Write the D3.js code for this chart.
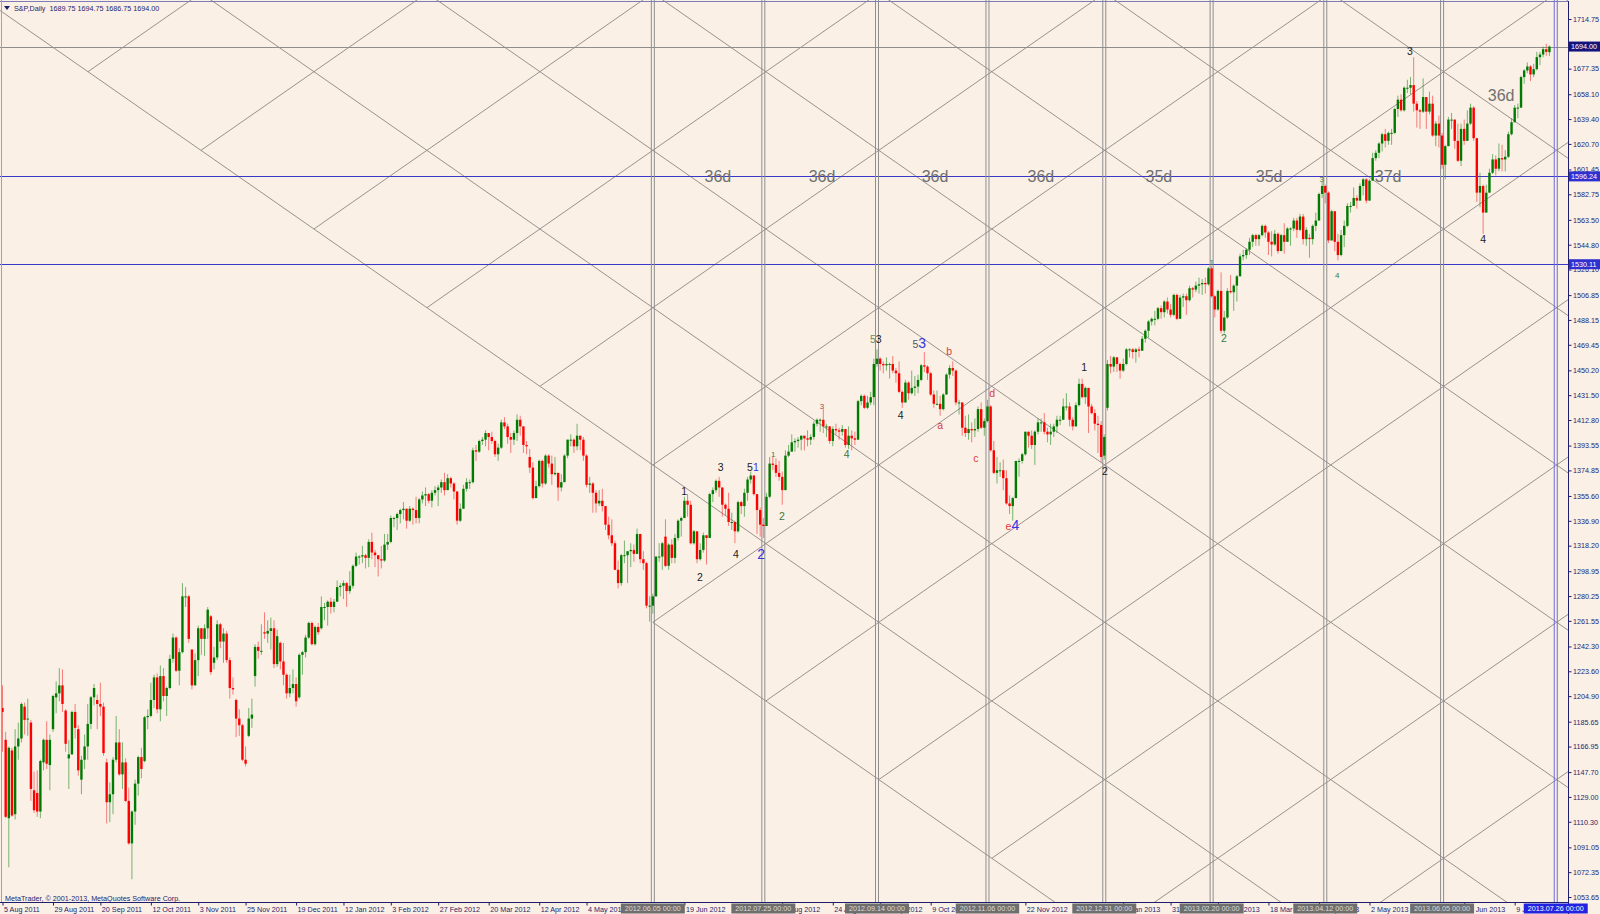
<!DOCTYPE html>
<html><head><meta charset="utf-8">
<script src="https://cdn.jsdelivr.net/npm/d3@7"></script>
<style>
html,body{margin:0;padding:0;background:#faf0e6;overflow:hidden;}
svg{display:block;font-family:"Liberation Sans",Arial,sans-serif;}
</style></head><body>
<svg id="c" width="1600" height="914"></svg>
<script>
// ---------------- DATA (S&P futures, daily bars, 5 Aug 2011 .. 24 Jul 2013) ----------------
const opens = [
1196,1172,1113,1164,1116,1167,1173,1197,1188,1185,1134,1132,1118,1155,1172,1153,1180,1204,1207,
1213,1194,1158,1161,1193,1180,1142,1157,1167,1184,1204,1202,1199,1197,1155,1125,1131,1157,1170,1146,1155,
1126,1094,1118,1139,1159,1156,1189,1190,1202,1219,1195,1220,1205,1211,1233,1249,1224,1238,1280,1280,
1240,1213,1232,1256,1248,1256,1265,1230,1234,1259,1246,1252,1232,1211,1202,1188,1183,1157,1175,1188,1220,
1242,1239,1253,1252,1254,1256,1229,1245,1231,1221,1207,1211,1214,1204,1236,1238,1249,1260,1244,1257,
1256,1272,1272,1276,1272,1276,1287,1288,1290,1284,1288,1303,1310,1310,1311,1309,1321,1313,1311,1308,
1307,1319,1321,1339,1339,1342,1345,1346,1337,1346,1345,1339,1353,1356,1357,1352,1358,1360,1362,1366,
1360,1369,1365,1359,1337,1346,1361,1366,1366,1390,1389,1397,1398,1403,1400,1397,1387,1392,1411,1408,1400,1398,
1403,1413,1408,1394,1385,1377,1354,1363,1382,1365,1386,1380,1372,1373,1362,1366,1386,1398,1398,
1393,1401,1398,1386,1364,1365,1358,1350,1352,1348,1334,1326,1320,1300,1290,1311,1311,1314,1315,1312,1327,1308,
1305,1273,1273,1280,1310,1310,1325,1303,1319,1309,1324,1337,1339,1352,1349,1320,1329,1308,1315,1326,1324,
1357,1360,1367,1362,1349,1346,1336,1336,1329,1351,1348,1358,1368,1371,1357,1345,1334,1333,1355,1380,1379,
1373,1370,1360,1386,1389,1396,1397,1398,1401,1399,1398,1400,1410,1413,1413,1408,1408,1397,1406,1405,1404,1406,1394,
1401,1399,1398,1427,1431,1422,1426,1430,1455,1459,1455,1454,1455,1455,1450,1448,1434,1426,1441,
1433,1437,1438,1443,1454,1453,1448,1432,1425,1425,1421,1432,1447,1452,1450,1426,1426,1407,1403,1406,1405,
1406,1421,1407,1412,1423,1390,1373,1375,1375,1369,1350,1348,1354,1382,1382,1387,1404,1401,1394,1404,1411,
1411,1404,1402,1404,1408,1413,1413,1423,1423,1413,1408,1424,1440,1430,1437,1423,1418,1410,1409,1386,
1422,1455,1453,1460,1455,1450,1455,1466,1466,1464,1466,1465,1474,1480,1487,1489,1489,1497,1494,1502,1496,
1492,1507,1489,1505,1506,1503,1512,1511,1514,1515,1516,1515,1527,1506,1496,1510,1480,1490,1510,
1509,1514,1521,1536,1537,1541,1547,1552,1549,1552,1559,1554,1547,1545,1553,1540,1552,1547,1557,1557,
1563,1556,1566,1549,1550,1549,1559,1563,1583,1589,1584,1548,1570,1547,1537,1552,1559,1574,1574,1580,1578,1589,
1594,1578,1593,1610,1614,1621,1628,1623,1629,1629,1647,1654,1646,1663,1663,1665,1651,1646,1645,1656,1645,1651,
1627,1636,1627,1605,1619,1639,1639,1623,1608,1632,1623,1636,1648,1625,1584,1589,1569,1584,1599,1609,
1602,1610,1609,1611,1628,1637,1648,1648,1671,1676,1679,1673,1677,1686,1688,1692,1689.75];
const highs = [
1213,1178,1167,1166,1180,1185,1200,1200,1203,1187,1148,1149,1157,1173,1186,1176,1206,1216,1226,
1225,1195,1172,1194,1199,1183,1160,1176,1199,1205,1214,1206,1215,1200,1158,1140,1159,1190,1180,1170,1158,
1136,1119,1142,1160,1166,1190,1195,1215,1221,1222,1228,1226,1212,1236,1252,1250,1241,1290,1287,1281,
1240,1237,1258,1256,1259,1272,1266,1242,1262,1260,1256,1254,1234,1219,1203,1195,1184,1167,1196,1203,1244,
1246,1259,1268,1262,1264,1262,1255,1246,1245,1222,1221,1225,1219,1237,1239,1251,1261,1261,1258,1260,
1280,1275,1277,1279,1278,1292,1290,1292,1291,1299,1304,1313,1311,1318,1312,1323,1328,1315,1311,1318,
1327,1327,1341,1340,1343,1346,1351,1346,1348,1347,1355,1354,1359,1362,1358,1360,1363,1364,1368,1373,
1372,1370,1366,1359,1350,1364,1369,1368,1392,1394,1398,1400,1405,1403,1404,1398,1395,1413,1415,1410,1403,1405,
1417,1416,1408,1397,1391,1381,1367,1383,1383,1387,1387,1386,1385,1373,1372,1387,1398,1402,1399,
1410,1401,1400,1387,1370,1366,1360,1360,1361,1348,1340,1338,1322,1307,1312,1322,1314,1320,1319,1331,1327,1314,
1306,1280,1282,1310,1320,1321,1338,1320,1323,1327,1338,1340,1355,1357,1352,1330,1329,1320,1328,1326,1358,
1362,1368,1370,1362,1350,1358,1343,1337,1352,1352,1361,1370,1374,1371,1357,1347,1339,1358,1385,1385,1384,
1382,1374,1390,1394,1402,1399,1400,1401,1401,1405,1402,1412,1414,1414,1421,1410,1408,1408,1410,1407,1409,1406,1408,
1405,1404,1428,1432,1432,1431,1434,1459,1466,1460,1457,1460,1456,1461,1452,1457,1435,1443,1442,
1450,1446,1447,1455,1464,1454,1449,1435,1435,1431,1433,1448,1454,1457,1451,1428,1426,1416,1417,1411,1414,
1423,1426,1414,1428,1424,1397,1385,1381,1383,1375,1356,1355,1382,1384,1388,1404,1404,1405,1405,1414,1414,
1418,1407,1410,1410,1416,1416,1429,1433,1426,1415,1426,1444,1444,1438,1437,1425,1421,1416,1412,1402,
1458,1461,1461,1460,1456,1459,1467,1467,1467,1467,1468,1476,1481,1488,1490,1495,1498,1499,1503,1505,1500,
1508,1508,1507,1508,1508,1514,1513,1517,1520,1519,1520,1528,1529,1507,1511,1524,1495,1512,1522,
1515,1522,1538,1541,1542,1550,1553,1553,1553,1560,1560,1555,1555,1556,1554,1553,1561,1558,1558,1565,
1565,1568,1568,1558,1553,1560,1569,1584,1592,1590,1585,1571,1570,1553,1556,1563,1576,1577,1588,1582,1591,1595,
1595,1594,1614,1616,1622,1629,1632,1630,1632,1648,1657,1658,1664,1669,1671,1686,1653,1647,1670,1656,1660,1657,
1638,1642,1629,1620,1641,1644,1639,1636,1636,1639,1646,1651,1649,1625,1599,1590,1590,1602,1613,1612,
1621,1620,1616,1630,1640,1650,1651,1672,1677,1682,1680,1681,1690,1690,1694,1696,1694.75];
const lows = [
1163,1113,1076,1114,1112,1157,1170,1176,1175,1126,1117,1114,1113,1149,1150,1134,1178,1192,1201,
1193,1163,1135,1161,1173,1145,1131,1150,1157,1180,1198,1180,1190,1160,1109,1110,1116,1155,1145,1135,1125,
1093,1067,1108,1130,1143,1155,1180,1189,1196,1192,1186,1201,1190,1210,1230,1223,1213,1237,1272,1245,
1210,1213,1220,1236,1235,1248,1221,1225,1232,1241,1230,1230,1203,1206,1174,1175,1156,1152,1174,1181,1212,
1233,1236,1248,1245,1240,1226,1227,1225,1213,1203,1204,1207,1197,1203,1221,1234,1248,1243,1243,1251,
1255,1262,1258,1267,1268,1276,1280,1278,1272,1282,1286,1302,1304,1305,1301,1302,1308,1302,1295,1301,
1306,1315,1320,1332,1330,1335,1338,1331,1336,1334,1335,1335,1350,1348,1350,1347,1356,1348,1358,1356,
1360,1362,1353,1334,1336,1346,1359,1361,1365,1382,1388,1394,1393,1390,1395,1385,1382,1391,1406,1395,1388,1394,
1397,1401,1388,1387,1373,1353,1354,1362,1362,1364,1377,1364,1371,1352,1359,1366,1384,1393,1388,
1390,1390,1382,1362,1358,1343,1343,1348,1344,1330,1323,1318,1300,1286,1288,1305,1290,1302,1306,1312,1305,1300,
1271,1261,1267,1280,1306,1300,1302,1300,1305,1305,1322,1325,1339,1340,1319,1319,1305,1307,1313,1304,1324,
1351,1358,1355,1340,1341,1333,1330,1320,1328,1342,1340,1352,1365,1356,1327,1325,1324,1333,1354,1375,1370,
1367,1349,1360,1385,1389,1389,1392,1390,1390,1393,1394,1398,1408,1404,1403,1400,1395,1393,1402,1398,1401,1392,1391,
1390,1394,1398,1424,1421,1421,1424,1424,1453,1450,1448,1450,1444,1448,1441,1433,1422,1426,1428,
1432,1431,1433,1442,1449,1443,1431,1422,1424,1416,1420,1432,1444,1446,1424,1417,1401,1400,1398,1396,1400,
1404,1406,1401,1411,1389,1372,1365,1370,1360,1349,1342,1337,1354,1370,1380,1386,1392,1391,1379,1402,1404,
1402,1396,1394,1400,1403,1409,1413,1420,1408,1405,1408,1423,1429,1425,1403,1417,1405,1388,1381,1383,
1420,1448,1449,1449,1444,1449,1454,1460,1459,1456,1460,1465,1471,1475,1484,1484,1488,1489,1490,1493,1490,
1491,1488,1489,1498,1492,1502,1505,1509,1508,1507,1508,1514,1505,1490,1495,1478,1478,1489,1508,
1495,1502,1521,1533,1534,1537,1543,1544,1544,1551,1550,1537,1536,1544,1538,1540,1538,1547,1544,1555,
1550,1555,1545,1544,1535,1545,1555,1563,1580,1576,1546,1548,1540,1533,1536,1543,1558,1569,1574,1572,1578,1582,
1576,1578,1593,1608,1610,1615,1618,1620,1620,1628,1641,1645,1645,1659,1658,1645,1633,1632,1644,1632,1643,1626,
1619,1618,1602,1594,1619,1632,1617,1607,1604,1620,1623,1635,1623,1577,1573,1553,1569,1584,1598,1597,
1600,1600,1600,1610,1627,1637,1640,1648,1666,1674,1668,1671,1676,1680,1686,1687,1686.75];
const closes = [
1193,1114,1166,1115,1167,1173,1199,1187,1188,1135,1119,1118,1156,1172,1154,1172,1205,1207,1213,
1199,1169,1161,1193,1181,1149,1157,1167,1184,1204,1211,1199,1197,1162,1125,1131,1157,1170,1146,1155,1126,
1094,1118,1139,1159,1150,1189,1190,1202,1219,1195,1220,1205,1211,1233,1249,1224,1238,1280,1280,1248,
1213,1232,1256,1248,1256,1270,1223,1234,1259,1246,1252,1232,1211,1210,1188,1183,1157,1154,1188,1191,1242,
1239,1239,1252,1254,1256,1229,1250,1231,1221,1207,1211,1214,1201,1236,1238,1249,1260,1244,1257,1253,
1272,1272,1276,1272,1276,1287,1288,1290,1284,1288,1303,1310,1310,1311,1309,1321,1313,1311,1308,1307,
1319,1321,1339,1339,1342,1345,1346,1337,1346,1345,1339,1353,1356,1357,1352,1358,1360,1362,1366,1360,
1369,1365,1359,1337,1346,1361,1366,1366,1390,1389,1397,1398,1403,1400,1397,1387,1392,1411,1408,1400,1398,1403,
1413,1408,1394,1393,1377,1354,1363,1382,1365,1386,1380,1372,1373,1362,1366,1386,1398,1398,1393,
1401,1398,1386,1364,1365,1358,1350,1352,1348,1334,1326,1320,1300,1290,1311,1311,1314,1315,1312,1327,1308,1305,
1273,1273,1280,1310,1310,1320,1303,1319,1309,1324,1337,1339,1352,1349,1320,1329,1308,1315,1326,1324,1357,
1360,1367,1362,1349,1346,1336,1336,1329,1351,1348,1358,1368,1371,1357,1345,1334,1333,1355,1380,1379,1373,
1370,1360,1386,1389,1396,1397,1398,1401,1399,1398,1400,1410,1413,1413,1408,1408,1397,1406,1405,1404,1406,1394,1401,
1399,1398,1427,1431,1422,1426,1430,1455,1459,1455,1454,1455,1455,1450,1448,1434,1426,1441,1433,
1437,1438,1443,1454,1453,1448,1432,1425,1425,1421,1432,1447,1452,1450,1426,1426,1407,1403,1406,1405,1406,
1421,1407,1412,1423,1390,1373,1375,1375,1369,1350,1348,1354,1382,1382,1387,1404,1401,1394,1404,1411,1411,
1404,1402,1404,1408,1413,1413,1423,1423,1413,1408,1424,1440,1430,1437,1423,1418,1410,1409,1385,1400,
1455,1453,1460,1455,1450,1455,1466,1466,1464,1466,1465,1474,1480,1487,1489,1489,1497,1494,1502,1496,1492,
1507,1489,1505,1506,1503,1512,1511,1514,1515,1516,1515,1527,1506,1496,1510,1480,1490,1510,1509,
1514,1521,1536,1537,1541,1547,1552,1549,1552,1559,1554,1547,1545,1553,1540,1552,1547,1557,1557,1563,
1556,1566,1549,1556,1549,1559,1563,1583,1589,1584,1548,1570,1547,1537,1552,1559,1574,1574,1580,1578,1589,1594,
1578,1593,1610,1614,1621,1628,1623,1629,1629,1647,1654,1646,1663,1663,1665,1651,1646,1645,1656,1645,1651,1627,
1636,1627,1605,1619,1639,1639,1623,1608,1632,1623,1636,1648,1625,1584,1589,1569,1584,1599,1609,1602,
1610,1609,1611,1628,1637,1648,1648,1671,1676,1679,1673,1677,1686,1688,1692,1690,1694];

// time-axis labels: bar index and text (labels fully hidden under the line-date boxes are omitted)
const timeTickIdx = [0,16,31,47,62,77,93,108,123,138,154,170,185,216,247,263,278,294,324,355,370,385,401,417,433,463,479];
const timeTickText = ["5 Aug 2011","29 Aug 2011","20 Sep 2011","12 Oct 2011","3 Nov 2011","25 Nov 2011","19 Dec 2011","12 Jan 2012","3 Feb 2012","27 Feb 2012","20 Mar 2012","12 Apr 2012","4 May 2012","19 Jun 2012","2 Aug 2012","24 Aug 2012","17 Sep 2012","9 Oct 2012","22 Nov 2012","9 Jan 2013","31 Jan 2013","22 Feb 2013","18 Mar 2013","10 Apr 2013","2 May 2013","14 Jun 2013","9 Jul 2013"];
// price-axis labels
const priceTicks = [1714.75,1677.35,1658.10,1639.40,1620.70,1601.45,1582.75,1563.50,1544.80,1526.10,1506.85,1488.15,1469.45,1450.20,1431.50,1412.80,1393.55,1374.85,1355.60,1336.90,1318.20,1298.95,1280.25,1261.55,1242.30,1223.60,1204.90,1185.65,1166.95,1147.70,1129.00,1110.30,1091.05,1072.35,1053.65];
// vertical time lines (bar index, label)
const vlineIdx = [206,241,277,312,349,383,419,456,492];
const vlineText = ["2012.06.05 00:00","2012.07.25 00:00","2012.09.14 00:00","2012.11.06 00:00","2012.12.31 00:00","2013.02.20 00:00","2013.04.12 00:00","2013.06.05 00:00","2013.07.26 00:00"];
// cycle-length labels
const cycleText = ["36d","36d","36d","36d","35d","35d","37d","36d"];
const cycleIdx = [226.6,259.6,295.4,328.9,366.3,401.2,438.9,474.7];
const cyclePrice = [1596.24,1596.24,1596.24,1596.24,1596.24,1596.24,1596.24,1657.5];
// horizontal lines
const hlinePrice = [1694.00,1596.24,1530.11];
// Gann-style lattice anchored at the June 2012 low
const latticeAnchorIdx = 206, latticeAnchorPrice = 1260.5, latticeSlope = 1.655, latticeStep = 118.45;
// wave labels: bar index, price, text; per-character colour and size keys
const waveIdx   = [215.9,220.9,227.5,232.3,237.7,240.3,244.1,246.9,259.6,267.4,276.6,284.5,290.4,297,299.9,308.3,313.5,319.9,342.6,349.2,383,386.9,417.9,422.8,445.8,469];
const wavePrice = [1360.8,1296.1,1378.4,1313.4,1378.4,1312.7,1389,1342,1425.6,1388.7,1475.3,1418,1471.5,1410.5,1466,1385.7,1434.6,1334.5,1454.2,1375.9,1534,1476,1596.5,1524.2,1692.2,1550.6];
const waveText  = ["1","2","3","4","51","2","1","2","3","4","53","4","53","a","b","c","d","e4","1","2","1","2","3","4","3","4"];
const waveColor = ["k","k","k","k","k b","b","g","g","br","g","gg k","k","gk b","r","r","r","r","r b","k","k","g","g","g","g","k","k"];
const waveSize  = ["m","m","m","m","m m","l","s","m","s","m","m m","m","m l","m","m","m","m","m l","m","m","s","m","s","s","m","m"];

// ---------------- DRAWING ----------------
const svg = d3.select('#c');
const PR = 1568, PB = 902;
const x = d3.scaleLinear().domain([0, 492]).range([2.5, 2.5 + 492 * 3.157]);
const y = d3.scaleLinear().domain([1053.65, 1714.75]).range([897, 19]);
const navy = '#1e1e6e';
const fontFam = '"Liberation Sans",Arial,sans-serif';

svg.append('rect').attr('width', 1600).attr('height', 914).attr('fill', '#faf0e6');
svg.append('defs').append('clipPath').attr('id', 'pc')
  .append('rect').attr('x', 0).attr('y', 0).attr('width', PR).attr('height', PB);
const plot = svg.append('g').attr('clip-path', 'url(#pc)');

// lattice
const cyc = latticeStep / (2 * latticeSlope);
const segs = [];
for (let n = 0; n <= 14; n++) {
  const s = n === 0 ? latticeAnchorIdx : -60;
  segs.push({s, e: 620, f: i => latticeAnchorPrice - latticeSlope * (i - latticeAnchorIdx) + n * latticeStep});
}
for (let m = -6; m <= 16; m++) {
  const s = m >= 1 ? latticeAnchorIdx + (1 - m) * cyc : latticeAnchorIdx + (-m) * cyc;
  segs.push({s: Math.max(s, -60), e: 620, f: i => latticeAnchorPrice + latticeSlope * (i - latticeAnchorIdx) + m * latticeStep});
}
plot.append('g').selectAll('line').data(segs).join('line')
  .attr('x1', d => x(d.s)).attr('y1', d => y(d.f(d.s)))
  .attr('x2', d => x(d.e)).attr('y2', d => y(d.f(d.e)))
  .attr('stroke', '#8c8784').attr('stroke-width', 0.9);

// horizontal lines
plot.append('g').selectAll('line').data(hlinePrice).join('line')
  .attr('x1', 0).attr('x2', PR).attr('y1', d => Math.round(y(d)) + 0.5).attr('y2', d => Math.round(y(d)) + 0.5)
  .attr('stroke', (d, k) => k === 0 ? '#8e8e8e' : '#3838c8').attr('stroke-width', 1);

// vertical double lines
const vl = plot.append('g');
vlineIdx.forEach((v, k) => {
  const col = k === vlineIdx.length - 1 ? '#6c6cdc' : '#8e8e8e';
  [-1.5, 1.5].forEach(o => vl.append('line').attr('x1', x(v) + o).attr('x2', x(v) + o)
    .attr('y1', 0).attr('y2', PB).attr('stroke', col).attr('stroke-width', 1));
});

// candles
const bars = closes.map((c, i) => ({i, o: opens[i], h: highs[i], l: lows[i], c}));
const cg = plot.append('g');
cg.selectAll('line').data(bars).join('line')
  .attr('x1', d => x(d.i)).attr('x2', d => x(d.i))
  .attr('y1', d => y(d.h)).attr('y2', d => y(d.l))
  .attr('stroke', d => d.c >= d.o ? '#1f8a1f' : '#f03030').attr('stroke-opacity', 0.6).attr('stroke-width', 1);
cg.selectAll('rect').data(bars).join('rect')
  .attr('x', d => x(d.i) - 1.2).attr('width', 2.4)
  .attr('y', d => y(Math.max(d.o, d.c)))
  .attr('height', d => Math.max(1, Math.abs(y(d.o) - y(d.c))))
  .attr('fill', d => d.c >= d.o ? '#007a00' : '#ff0000');

// cycle labels
plot.append('g').selectAll('text').data(cycleText).join('text')
  .attr('x', (d, k) => x(cycleIdx[k]))
  .attr('y', (d, k) => y(cyclePrice[k])).attr('dy', '0.36em')
  .attr('text-anchor', 'middle').attr('font-size', 16).attr('fill', '#707070').text(d => d);

// wave labels (one text element per label, one tspan per character)
const wc = {k: '#222222', b: '#3535e0', g: '#3c7a3c', r: '#e03a3a', br: '#a04848', gg: '#5f8f5f', gk: '#555555'};
const ws = {s: 8, m: 10.5, l: 14};
const wg = plot.append('g');
waveText.forEach((t, k) => {
  const cols = waveColor[k].split(' '), sz = waveSize[k].split(' ');
  const te = wg.append('text').attr('x', x(waveIdx[k])).attr('y', y(wavePrice[k])).attr('dy', '0.36em')
    .attr('text-anchor', 'middle');
  t.split('').forEach((ch, j) => te.append('tspan').attr('fill', wc[cols[j]]).attr('font-size', ws[sz[j]]).text(ch));
});

// header & footer
svg.append('path').attr('d', 'M4,6 L10,6 L7,10 Z').attr('fill', navy);
svg.append('text').attr('x', 14).attr('y', 10.5).attr('font-size', 7.2).attr('fill', navy)
  .attr('xml:space', 'preserve').text('S&P,Daily  1689.75 1694.75 1686.75 1694.00');
svg.append('text').attr('x', 5).attr('y', 900.5).attr('font-size', 7.2).attr('fill', navy)
  .text('MetaTrader, \u00a9 2001-2013, MetaQuotes Software Corp.');

// frame
svg.append('line').attr('x1', 0).attr('x2', PR).attr('y1', 1.5).attr('y2', 1.5).attr('stroke', '#7c7cb8');
svg.append('line').attr('x1', 1.5).attr('x2', 1.5).attr('y1', 0).attr('y2', PB).attr('stroke', '#a49cd0');
svg.append('line').attr('x1', PR + 0.5).attr('x2', PR + 0.5).attr('y1', 1).attr('y2', 914).attr('stroke', navy);
svg.append('line').attr('x1', 0).attr('x2', PR).attr('y1', PB + 0.5).attr('y2', PB + 0.5).attr('stroke', navy);

// price axis
const pa = svg.append('g').attr('transform', `translate(${PR + 0.5},0)`)
  .call(d3.axisRight(y).tickValues(priceTicks).tickFormat(d3.format('.2f')).tickSize(3).tickPadding(1.5));
pa.select('.domain').remove();
pa.selectAll('line').attr('stroke', navy);
pa.selectAll('text').attr('font-size', 7.2).attr('fill', navy).attr('font-family', fontFam);

// price boxes
const pbox = svg.append('g');
hlinePrice.forEach((p, k) => {
  const yy = y(p);
  pbox.append('rect').attr('x', PR + 1).attr('y', yy - 5).attr('width', 31).attr('height', 10)
    .attr('fill', k === 0 ? '#14147c' : '#3030d0');
  pbox.append('text').attr('x', PR + 3).attr('y', yy).attr('dy', '0.35em').attr('font-size', 7.2)
    .attr('fill', '#ffffff').text(d3.format('.2f')(p));
});

// time axis
const ta = svg.append('g').attr('transform', `translate(0,${PB + 0.5})`)
  .call(d3.axisBottom(x).tickValues(timeTickIdx).tickFormat((d, k) => timeTickText[k]).tickSize(3).tickPadding(1));
ta.select('.domain').remove();
ta.selectAll('line').attr('stroke', navy);
ta.selectAll('text').attr('text-anchor', 'start').attr('dx', 1).attr('font-size', 7.2).attr('fill', navy)
  .attr('font-family', fontFam);

// vertical line time boxes
const tb = svg.append('g');
vlineIdx.forEach((v, k) => {
  const last = k === vlineIdx.length - 1;
  const t = tb.append('text').attr('x', x(v)).attr('y', PB + 8.5).attr('text-anchor', 'middle')
    .attr('font-size', 7.2).attr('fill', last ? '#ffffff' : '#dcdcdc').text(vlineText[k]);
  const w = t.node().getComputedTextLength() + 8;
  tb.insert('rect', 'text').attr('x', x(v) - w / 2).attr('y', PB + 1.5).attr('width', w).attr('height', 10)
    .attr('fill', last ? '#2222e0' : '#6e6e6e');
});
</script>
</body></html>
